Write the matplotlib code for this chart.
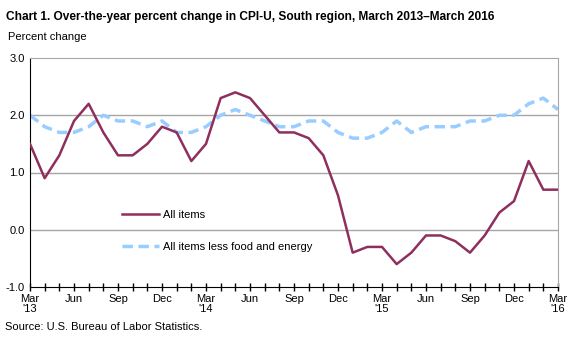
#!/usr/bin/env python3
import numpy as np
import matplotlib
matplotlib.use("Agg")
import matplotlib.pyplot as plt

plt.rcParams['font.family'] = ['Liberation Sans', 'DejaVu Sans']

# monthly values, March 2013 - March 2016
all_items = [1.5, 0.9, 1.3, 1.9, 2.2, 1.7, 1.3, 1.3, 1.5, 1.8,
             1.7, 1.2, 1.5, 2.3, 2.4, 2.3, 2.0, 1.7, 1.7, 1.6,
             1.3, 0.6, -0.4, -0.3, -0.3, -0.6, -0.4, -0.1, -0.1, -0.2,
             -0.4, -0.1, 0.3, 0.5, 1.2, 0.7, 0.7]
core = [2.0, 1.8, 1.7, 1.7, 1.8, 2.0, 1.9, 1.9, 1.8, 1.9,
        1.7, 1.7, 1.8, 2.0, 2.1, 2.0, 1.9, 1.8, 1.8, 1.9,
        1.9, 1.7, 1.6, 1.6, 1.7, 1.9, 1.7, 1.8, 1.8, 1.8,
        1.9, 1.9, 2.0, 2.0, 2.2, 2.3, 2.1]
tick_labels = ["Mar\n'13", "Jun", "Sep", "Dec", "Mar\n'14", "Jun", "Sep", "Dec",
               "Mar\n'15", "Jun", "Sep", "Dec", "Mar\n'16"]
y_ticks = [-1.0, 0.0, 1.0, 2.0, 3.0]

x = np.arange(len(all_items))

fig = plt.figure(figsize=(5.76, 3.37), dpi=100)
ax = fig.add_axes([30/576, 1 - 287/337, 528/576, 229/337])

for y in y_ticks[1:-1]:
    ax.axhline(y, color='#a6a6a6', lw=1, zorder=1)

ax.plot(x, all_items, color='#8e2f5e', lw=1.8, label='All items', zorder=3)
ax.plot(x, core, color='#99ccff', lw=2.5, dashes=(3, 1.6), label='All items less food and energy', zorder=2)

ax.set_xlim(0, len(all_items) - 1)
ax.set_ylim(-1, 3)
ax.set_yticks(y_ticks)
ax.set_yticklabels([f"{v:.1f}" for v in y_ticks], fontsize=8)
ax.tick_params(axis='y', length=0, pad=4)
ax.set_xticks(x[::3])
ax.set_xticklabels(tick_labels, fontsize=8, linespacing=1.0)
ax.set_xticks(x, minor=True)
ax.tick_params(axis='x', which='both', direction='inout', length=6, width=1, pad=2)

for s in ['top', 'right']:
    ax.spines[s].set_color('#a6a6a6')
for s in ['left', 'bottom']:
    ax.spines[s].set_color('black')

ax.legend(loc='upper left', bbox_to_anchor=(0.155, 0.38), frameon=False, fontsize=8,
          labelspacing=2.0, handlelength=3.3, handletextpad=0.4)

fig.text(6/576, 1 - 20/337, "Chart 1. Over-the-year percent change in CPI-U, South region, March 2013\u2013March 2016",
         fontsize=8.6, fontweight='bold', va='baseline')
fig.text(8/576, 1 - 40/337, "Percent change", fontsize=8, va='baseline')
fig.text(5/576, 1 - 330/337, "Source: U.S. Bureau of Labor Statistics.", fontsize=8, va='baseline')

fig.savefig("out.png", dpi=100)
